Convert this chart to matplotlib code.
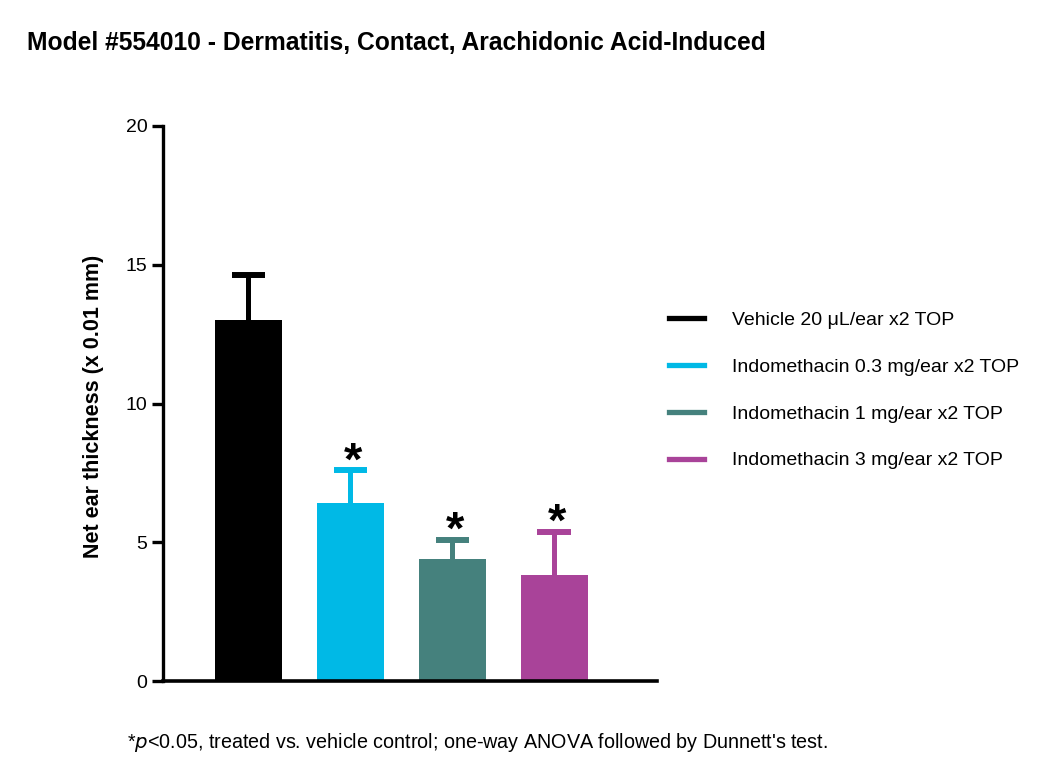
import numpy as np
import matplotlib.pyplot as plt
from matplotlib.lines import Line2D

plt.rcParams['font.family'] = ['Liberation Sans', 'DejaVu Sans']

groups = ['Vehicle 20 \u03bcL/ear x2 TOP',
          'Indomethacin 0.3 mg/ear x2 TOP',
          'Indomethacin 1 mg/ear x2 TOP',
          'Indomethacin 3 mg/ear x2 TOP']
means = [13.0, 6.4, 4.39, 3.82]
sem = [1.62, 1.2, 0.71, 1.55]
significant = [False, True, True, True]
colors = ['#000000', '#00B9E6', '#45817D', '#A94399']

fig = plt.figure(figsize=(10.5, 7.82), dpi=100)
ax = fig.add_axes([0.155, 0.129, 0.471, 0.710])

x = np.arange(len(means))
tops = np.array(means) + np.array(sem)
ax.bar(x, means, width=0.66, color=colors, zorder=2)
# upper error bars only
ax.vlines(x, means, tops, colors=colors, linewidth=3.6, zorder=1)
ax.hlines(tops, x - 0.165, x + 0.165, colors=colors, linewidth=4.3, zorder=1)
for i in range(len(means)):
    if significant[i]:
        ax.text(x[i] + 0.03, tops[i] - 0.15, '*', ha='center', va='baseline',
                fontsize=34, fontweight='bold')

ax.set_xlim(-0.84, 4.01)
ax.set_ylim(0, 20)
ax.set_yticks([0, 5, 10, 15, 20])
ax.set_xticks([])
for s in ['top', 'right']:
    ax.spines[s].set_visible(False)
ax.spines['left'].set_linewidth(2.4)
ax.spines['bottom'].set_linewidth(2.6)
ax.tick_params(axis='y', width=2.4, length=8, labelsize=14, pad=3)
ax.set_ylabel('Net ear thickness (x 0.01 mm)', fontsize=15.5, fontweight='bold')
ax.yaxis.set_label_coords(-0.118, 0.495)

handles = [Line2D([0], [0], color=c, lw=3.8) for c in colors]
fig.legend(handles, groups, loc='upper left', bbox_to_anchor=(0.62, 0.624),
           frameon=False, fontsize=14, handlelength=1.8, handletextpad=1.45,
           labelspacing=1.5)

fig.text(0.026, 0.945, 'Model #554010 - Dermatitis, Contact, Arachidonic Acid-Induced',
         fontsize=17.7, fontweight='bold', va='center')
fig.text(0.121, 0.05, '*$\\it{p}$<0.05, treated vs. vehicle control; one-way ANOVA followed by Dunnett\'s test.',
         fontsize=14.2, va='center')

fig.savefig('out.png', dpi=100)
